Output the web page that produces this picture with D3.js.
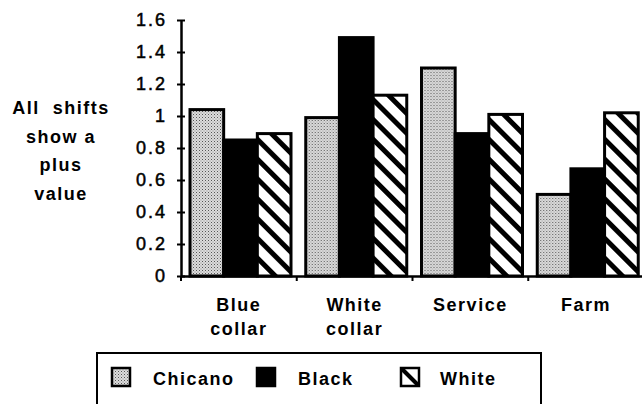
<!DOCTYPE html>
<html>
<head>
<meta charset="utf-8">
<script src="https://cdn.jsdelivr.net/npm/d3@7"></script>
<style>
  body { margin: 0; background: #fff; }
  svg { display: block; }
  text { font-family: "Liberation Sans", Arial, Helvetica, sans-serif; fill: #000; }
</style>
</head>
<body>
<div id="chart"></div>
<script>
// chart data
var categories = [["Blue", "collar"], ["White", "collar"], ["Service"], ["Farm"]];
var series = ["Chicano", "Black", "White"];
var chicano = [1.04, 0.99, 1.30, 0.51];
var black = [0.85, 1.49, 0.89, 0.67];
var white = [0.89, 1.13, 1.01, 1.02];
var yTicks = [0, 0.2, 0.4, 0.6, 0.8, 1, 1.2, 1.4, 1.6];
var sideNote = ["All  shifts", "show a", "plus", "value"];

var width = 642, height = 404;

var svg = d3.select("#chart")
  .append("svg")
    .attr("width", width)
    .attr("height", height);

// fills: stipple for Chicano, solid black, hatch for White
var defs = svg.append("defs");
var dots = defs.append("pattern")
    .attr("id", "dots")
    .attr("patternUnits", "userSpaceOnUse")
    .attr("width", 3).attr("height", 3);
dots.append("rect").attr("width", 3).attr("height", 3).attr("fill", "#dcdcdc");
dots.append("rect").attr("x", 0).attr("y", 0).attr("width", 1).attr("height", 1).attr("fill", "#555");
dots.append("rect").attr("x", 1.5).attr("y", 1.5).attr("width", 1).attr("height", 1).attr("fill", "#888");

var hatch = defs.append("pattern")
    .attr("id", "hatch")
    .attr("patternUnits", "userSpaceOnUse")
    .attr("width", 14).attr("height", 14)
    .attr("patternTransform", "rotate(45)");
hatch.append("rect").attr("width", 14).attr("height", 14).attr("fill", "#fff");
hatch.append("rect").attr("x", 0).attr("y", 0).attr("width", 14).attr("height", 5).attr("fill", "#000");

var fills = {"Chicano": "url(#dots)", "Black": "#000", "White": "url(#hatch)"};

// scales
var x0 = d3.scaleBand()
    .domain(d3.range(categories.length))
    .range([181, 644]);

var x1 = d3.scaleBand()
    .domain(series)
    .range([9, 110]);

var y = d3.scaleLinear()
    .domain([0, 1.6])
    .range([276, 20]);

var rows = categories.map(function(c, i) {
  return {i: i, values: [
    {key: "Chicano", value: chicano[i]},
    {key: "Black", value: black[i]},
    {key: "White", value: white[i]}
  ]};
});

// bars
var groups = svg.selectAll("g.group")
  .data(rows)
  .join("g")
    .attr("class", "group")
    .attr("transform", function(d) { return "translate(" + x0(d.i) + ",0)"; });

groups.selectAll("rect")
  .data(function(d) { return d.values; })
  .join("rect")
    .attr("x", function(d) { return x1(d.key); })
    .attr("y", function(d) { return y(d.value); })
    .attr("width", x1.bandwidth())
    .attr("height", function(d) { return y(0) - y(d.value); })
    .attr("fill", function(d) { return fills[d.key]; })
    .attr("stroke", "#000")
    .attr("stroke-width", 3);

// y axis
var yAxis = d3.axisLeft(y)
    .tickValues(yTicks)
    .tickFormat(function(d) { return d === 0 || d === 1 ? d3.format("d")(d) : d3.format(".1f")(d); })
    .tickSizeInner(4)
    .tickSizeOuter(0)
    .tickPadding(10);

var gy = svg.append("g")
    .attr("transform", "translate(181,0)")
    .call(yAxis);
gy.select(".domain").attr("stroke-width", 2.5);
gy.selectAll(".tick line").attr("x2", 4).attr("x1", -4).attr("stroke-width", 2);
gy.selectAll(".tick text")
    .attr("font-size", 18)
    .attr("letter-spacing", 2)
    .attr("stroke", "#000")
    .attr("stroke-width", 0.5)
    .style("font-family", "'Liberation Sans', Arial, sans-serif");

// x axis
var xAxis = d3.axisBottom(x0)
    .tickValues([])
    .tickSizeOuter(0);
var gx = svg.append("g")
    .attr("transform", "translate(0," + y(0) + ")")
    .call(xAxis);
gx.select(".domain").attr("stroke-width", 2.5);
gx.selectAll(".sep")
  .data(d3.range(categories.length + 1))
  .join("line")
    .attr("class", "sep")
    .attr("x1", function(d) { return d < categories.length ? x0(d) : 644; })
    .attr("x2", function(d) { return d < categories.length ? x0(d) : 644; })
    .attr("y1", 0)
    .attr("y2", 5)
    .attr("stroke", "#000")
    .attr("stroke-width", 2);

// category labels
var labels = svg.selectAll("text.cat")
  .data(rows)
  .join("text")
    .attr("class", "cat")
    .attr("text-anchor", "middle")
    .attr("font-size", 18)
    .attr("font-weight", "bold")
    .attr("letter-spacing", 1.5)
    .attr("x", function(d) { return x0(d.i) + x0.bandwidth() / 2; })
    .attr("y", 311);
labels.selectAll("tspan")
  .data(function(d) { return categories[d.i]; })
  .join("tspan")
    .attr("x", function() { return d3.select(this.parentNode).attr("x"); })
    .attr("dy", function(d, i) { return i === 0 ? 0 : 24; })
    .text(function(d) { return d; });

// side note
svg.append("text")
    .attr("text-anchor", "middle")
    .attr("font-size", 18)
    .attr("font-weight", "bold")
    .attr("letter-spacing", 1.5)
  .selectAll("tspan")
  .data(sideNote)
  .join("tspan")
    .attr("x", 61)
    .attr("y", function(d, i) { return 114 + i * 28.5; })
    .style("white-space", "pre")
    .text(function(d) { return d; });

// legend
var legend = svg.append("g");
legend.append("rect")
    .attr("x", 97).attr("y", 353)
    .attr("width", 444).attr("height", 60)
    .attr("fill", "none")
    .attr("stroke", "#000")
    .attr("stroke-width", 2);

var legendX = [112, 257, 401];
var legendItems = legend.selectAll("g.item")
  .data(series)
  .join("g")
    .attr("class", "item")
    .attr("transform", function(d, i) { return "translate(" + legendX[i] + ",368)"; });
legendItems.append("rect")
    .attr("width", 18).attr("height", 18)
    .attr("fill", function(d) { return d === "White" ? "#fff" : fills[d]; })
    .attr("stroke", "#000")
    .attr("stroke-width", 2.5);
legendItems.filter(function(d) { return d === "White"; })
  .append("line")
    .attr("x1", 1).attr("y1", 1).attr("x2", 17).attr("y2", 17)
    .attr("stroke", "#000").attr("stroke-width", 4);
legendItems.append("text")
    .attr("x", function(d, i) { return [41, 41, 39][i]; })
    .attr("y", 17)
    .attr("font-size", 18)
    .attr("font-weight", "bold")
    .attr("letter-spacing", 1.5)
    .text(function(d) { return d; });
</script>
</body>
</html>
